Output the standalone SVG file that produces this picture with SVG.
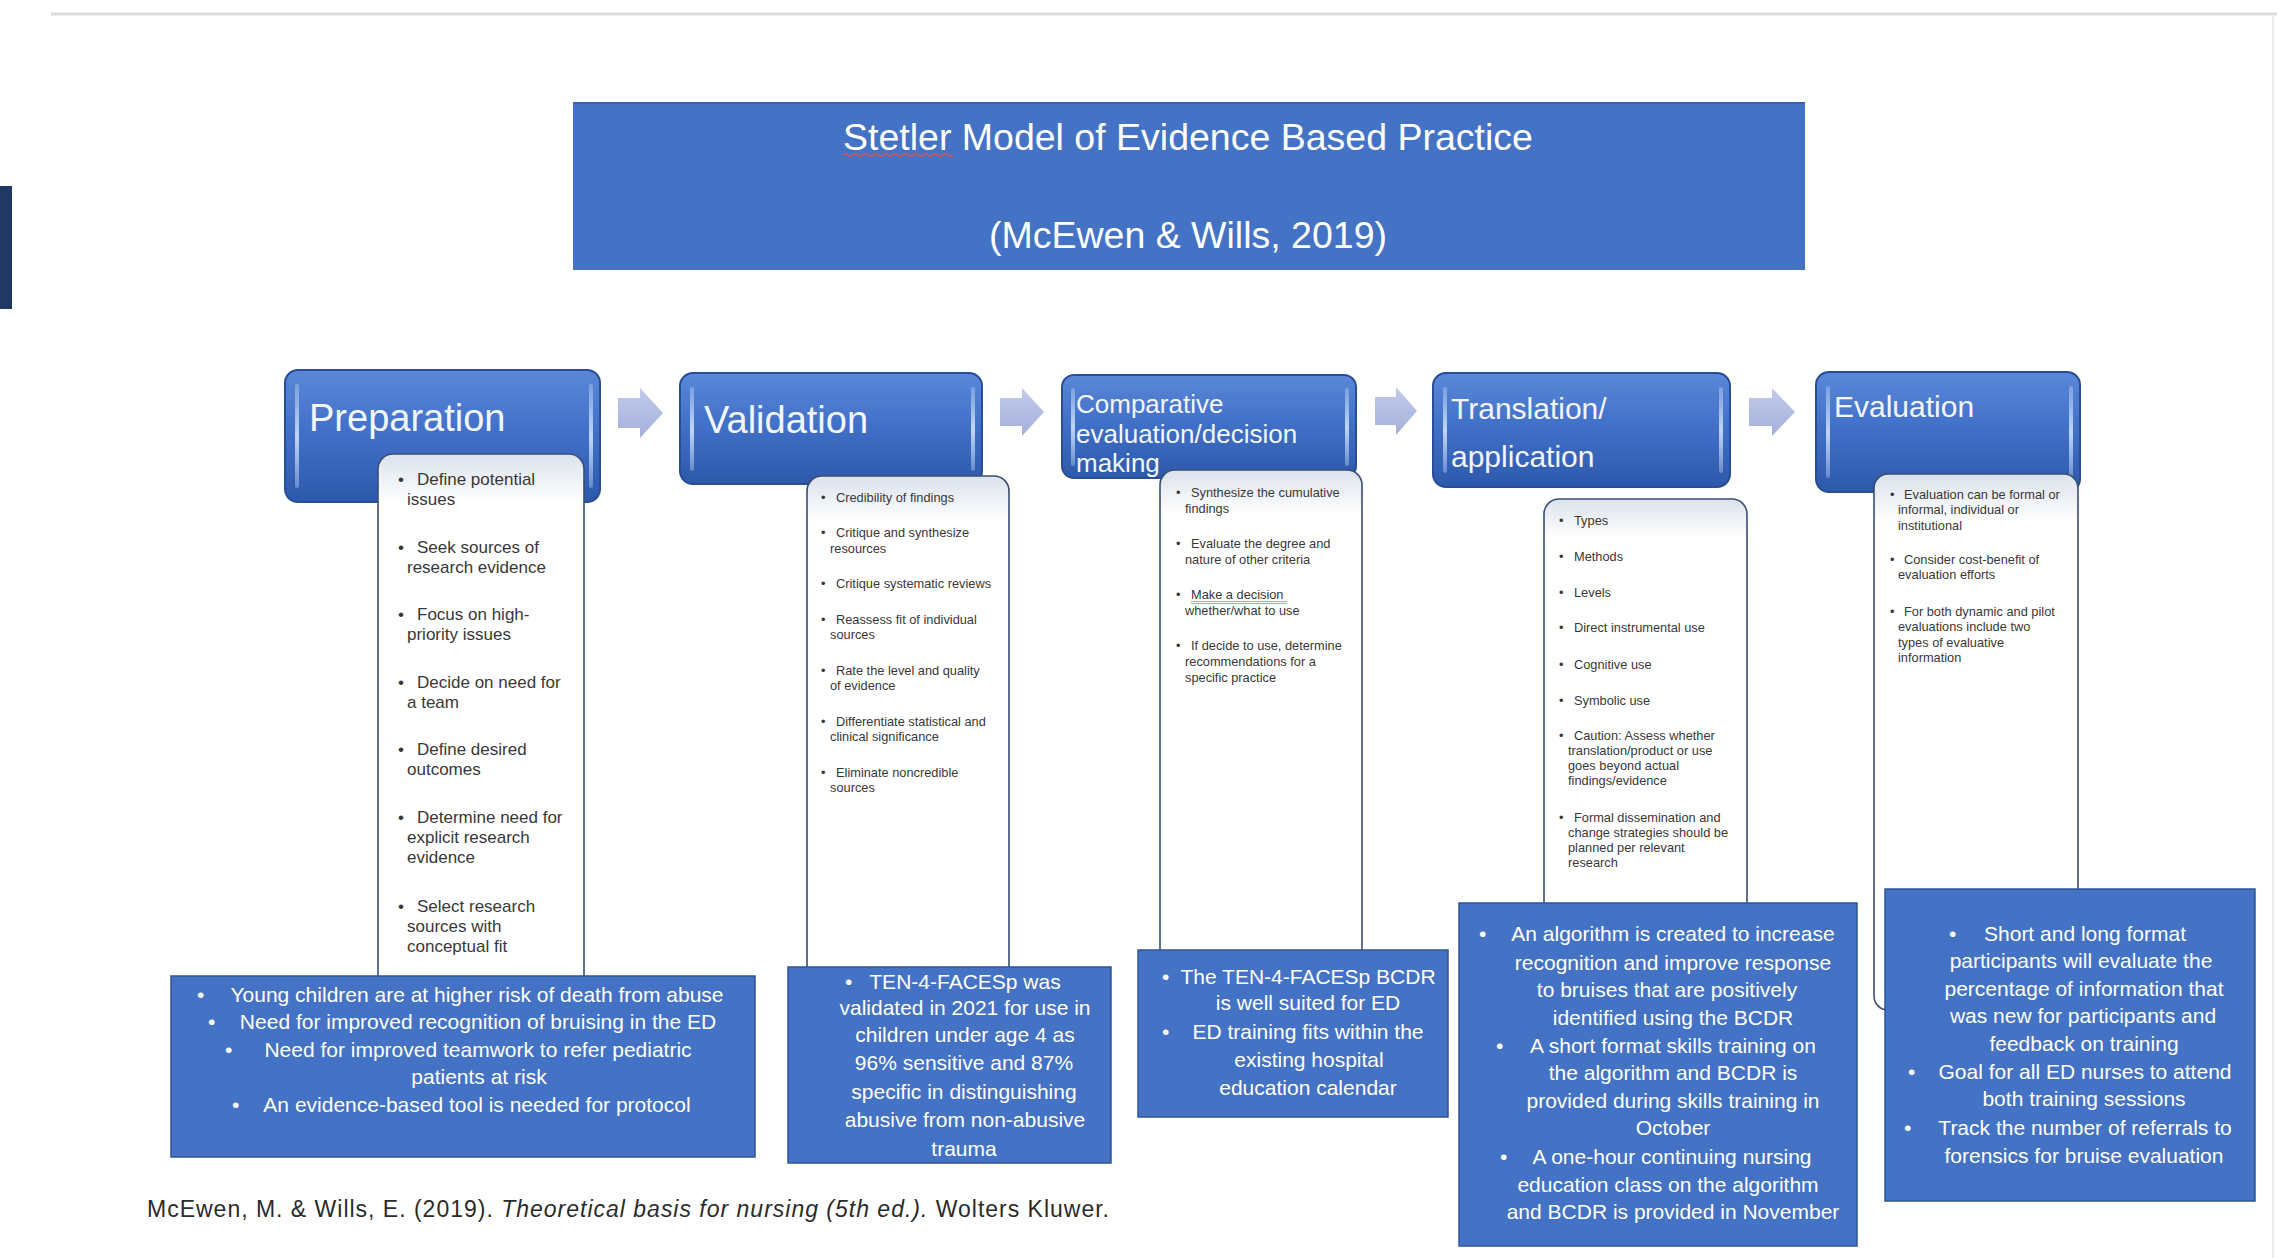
<svg xmlns="http://www.w3.org/2000/svg" width="2277" height="1258" viewBox="0 0 2277 1258">
  <defs>
    <!-- glossy bevel fill for the phase headers -->
    <linearGradient id="hdrFill" x1="0" y1="0" x2="0" y2="1">
      <stop offset="0" stop-color="#5a88d8"/>
      <stop offset="0.45" stop-color="#4271c9"/>
      <stop offset="1" stop-color="#2d59ab"/>
    </linearGradient>
    <linearGradient id="stripeFill" x1="0" y1="0" x2="0" y2="1">
      <stop offset="0" stop-color="#c6dbfa" stop-opacity="0.35"/>
      <stop offset="0.5" stop-color="#c6dbfa" stop-opacity="0.95"/>
      <stop offset="1" stop-color="#c6dbfa" stop-opacity="0.35"/>
    </linearGradient>
    <linearGradient id="panelFill" x1="0" y1="0" x2="0" y2="1">
      <stop offset="0" stop-color="#dbe2ec"/>
      <stop offset="0.09" stop-color="#ffffff"/>
      <stop offset="1" stop-color="#ffffff"/>
    </linearGradient>
    <linearGradient id="arrowFill" x1="0" y1="0" x2="0" y2="1">
      <stop offset="0" stop-color="#c3cbea"/>
      <stop offset="1" stop-color="#a4b0dc"/>
    </linearGradient>
  </defs>
  <style>
    .hdr { fill: url(#hdrFill); stroke: #2a4d98; stroke-width: 2; }
    .stripe { fill: url(#stripeFill); }
    .hdrText { font-family: "Liberation Sans", Arial, sans-serif; fill: #f3f6ff; }
    .panel { fill: url(#panelFill); stroke: #3a4d74; stroke-width: 1.6; }
    .pt { font-family: "Liberation Sans", Arial, sans-serif; fill: #383838; }
    .p17 { font-size: 17px; }
    .p13 { font-size: 12.8px; }
    .box { fill: #4472c4; stroke: #2f5597; stroke-width: 1.5; }
    .bt { font-family: "Liberation Sans", Arial, sans-serif; font-size: 21px; fill: #ffffff; }
    .mid { text-anchor: middle; }
    .arrow { fill: url(#arrowFill); }
    .title { font-family: "Liberation Sans", Arial, sans-serif; font-size: 37.5px; fill: #ffffff; text-anchor: middle; }
  </style>

  <rect x="0" y="0" width="2277" height="1258" fill="#ffffff"/>

  <!-- page frame -->
  <line x1="51" y1="14" x2="2277" y2="14" stroke="#dcdcdc" stroke-width="3"/>
  <line x1="2273" y1="14" x2="2273" y2="1258" stroke="#ececec" stroke-width="2"/>
  <rect x="0" y="186" width="12" height="123" fill="#1f3864"/>

  <!-- title banner -->
  <g id="title">
    <rect x="573" y="102" width="1232" height="168" fill="#4472c4"/>
    <line x1="573" y1="103" x2="1805" y2="103" stroke="#3a62ad" stroke-width="2"/>
    <text class="title" x="1188" y="150">Stetler Model of Evidence Based Practice</text>
    <path d="M843 155 q2.5 -3 5 0 t5 0 t5 0 t5 0 t5 0 t5 0 t5 0 t5 0 t5 0 t5 0 t5 0 t5 0 t5 0 t5 0 t5 0 t5 0 t5 0 t5 0 t5 0 t5 0 t5 0 t5 0" fill="none" stroke="#d9534f" stroke-width="1.6"/>
    <text class="title" x="1188" y="248">(McEwen &amp; Wills, 2019)</text>
  </g>

  <!-- connectors between phases -->
  <g id="connectors">
    <path class="arrow" d="M618 398 H640 V388 L663 413 L640 438 V428 H618 Z"/>
    <path class="arrow" d="M1000 398 H1022 V388 L1044 412 L1022 436 V426 H1000 Z"/>
    <path class="arrow" d="M1375 397 H1396 V387 L1417 411 L1396 435 V425 H1375 Z"/>
    <path class="arrow" d="M1749 398 H1772 V388 L1795 412 L1772 436 V426 H1749 Z"/>
  </g>

  <!-- Phase 1: Preparation -->
  <g id="node-preparation">
    <rect class="hdr" x="285" y="370" width="315" height="132" rx="13"/>
    <rect class="stripe" x="295" y="384" width="4" height="104" rx="2"/>
    <rect class="stripe" x="589" y="384" width="4" height="104" rx="2"/>
    <text class="hdrText" x="309" y="431" font-size="38">Preparation</text>
    <rect class="panel" x="378" y="454" width="206" height="545" rx="15"/>
    <g class="pt p17">
      <text x="398" y="485">•</text><text x="417" y="485">Define potential</text>
      <text x="407" y="505">issues</text>
      <text x="398" y="553">•</text><text x="417" y="553">Seek sources of</text>
      <text x="407" y="573">research evidence</text>
      <text x="398" y="620">•</text><text x="417" y="620">Focus on high-</text>
      <text x="407" y="640">priority issues</text>
      <text x="398" y="688">•</text><text x="417" y="688">Decide on need for</text>
      <text x="407" y="708">a team</text>
      <text x="398" y="755">•</text><text x="417" y="755">Define desired</text>
      <text x="407" y="775">outcomes</text>
      <text x="398" y="823">•</text><text x="417" y="823">Determine need for</text>
      <text x="407" y="843">explicit research</text>
      <text x="407" y="863">evidence</text>
      <text x="398" y="912">•</text><text x="417" y="912">Select research</text>
      <text x="407" y="932">sources with</text>
      <text x="407" y="952">conceptual fit</text>
    </g>
    <rect class="box" x="171" y="976" width="584" height="181"/>
    <g class="bt">
      <text x="197" y="1002">•</text><text class="mid" x="477" y="1002">Young children are at higher risk of death from abuse</text>
      <text x="208" y="1029">•</text><text class="mid" x="478" y="1029">Need for improved recognition of bruising in the ED</text>
      <text x="225" y="1057">•</text><text class="mid" x="478" y="1057">Need for improved teamwork to refer pediatric</text>
      <text class="mid" x="479" y="1084">patients at risk</text>
      <text x="232" y="1112">•</text><text class="mid" x="477" y="1112">An evidence-based tool is needed for protocol</text>
    </g>
  </g>

  <!-- Phase 2: Validation -->
  <g id="node-validation">
    <rect class="hdr" x="680" y="373" width="302" height="111" rx="13"/>
    <rect class="stripe" x="690" y="387" width="4" height="84" rx="2"/>
    <rect class="stripe" x="971" y="387" width="4" height="84" rx="2"/>
    <text class="hdrText" x="704" y="433" font-size="38">Validation</text>
    <rect class="panel" x="807" y="476" width="202" height="510" rx="15"/>
    <g class="pt p13">
      <text x="821" y="501.5">•</text><text x="836" y="501.5">Credibility of findings</text>
      <text x="821" y="537">•</text><text x="836" y="537">Critique and synthesize</text>
      <text x="830" y="552.5">resources</text>
      <text x="821" y="588">•</text><text x="836" y="588">Critique systematic reviews</text>
      <text x="821" y="623.5">•</text><text x="836" y="623.5">Reassess fit of individual</text>
      <text x="830" y="639">sources</text>
      <text x="821" y="674.5">•</text><text x="836" y="674.5">Rate the level and quality</text>
      <text x="830" y="690">of evidence</text>
      <text x="821" y="725.5">•</text><text x="836" y="725.5">Differentiate statistical and</text>
      <text x="830" y="741">clinical significance</text>
      <text x="821" y="776.5">•</text><text x="836" y="776.5">Eliminate noncredible</text>
      <text x="830" y="792">sources</text>
    </g>
    <rect class="box" x="788" y="967" width="323" height="196"/>
    <g class="bt">
      <text x="845" y="989">•</text><text class="mid" x="965" y="989">TEN-4-FACESp was</text>
      <text class="mid" x="965" y="1015">validated in 2021 for use in</text>
      <text class="mid" x="965" y="1042">children under age 4 as</text>
      <text class="mid" x="964" y="1070">96% sensitive and 87%</text>
      <text class="mid" x="964" y="1099">specific in distinguishing</text>
      <text class="mid" x="965" y="1127">abusive from non-abusive</text>
      <text class="mid" x="964" y="1156">trauma</text>
    </g>
  </g>

  <!-- Phase 3: Comparative evaluation / decision making -->
  <g id="node-comparative">
    <rect class="hdr" x="1062" y="375" width="294" height="103" rx="12"/>
    <rect class="stripe" x="1071" y="388" width="4" height="78" rx="2"/>
    <rect class="stripe" x="1345" y="388" width="4" height="78" rx="2"/>
    <text class="hdrText" x="1076" y="413" font-size="26">Comparative</text>
    <text class="hdrText" x="1076" y="443" font-size="26">evaluation/decision</text>
    <text class="hdrText" x="1076" y="472" font-size="26">making</text>
    <rect class="panel" x="1160" y="470" width="202" height="500" rx="15"/>
    <g class="pt p13">
      <text x="1176" y="496.5">•</text><text x="1191" y="496.5">Synthesize the cumulative</text>
      <text x="1185" y="512.5">findings</text>
      <text x="1176" y="547.5">•</text><text x="1191" y="547.5">Evaluate the degree and</text>
      <text x="1185" y="563.5">nature of other criteria</text>
      <text x="1176" y="598.5">•</text><text x="1191" y="598.5">Make a decision</text>
      <text x="1185" y="614.5">whether/what to use</text>
      <text x="1176" y="649.5">•</text><text x="1191" y="649.5">If decide to use, determine</text>
      <text x="1185" y="665.5">recommendations for a</text>
      <text x="1185" y="681.5">specific practice</text>
    </g>
    <path d="M1191 601.5 H1287 M1191 603.5 H1287" stroke="#c9a43a" stroke-width="0.9" fill="none"/>
    <rect class="box" x="1138" y="950" width="310" height="167"/>
    <g class="bt">
      <text x="1162" y="984">•</text><text class="mid" x="1308" y="984">The TEN-4-FACESp BCDR</text>
      <text class="mid" x="1308" y="1010">is well suited for ED</text>
      <text x="1162" y="1039">•</text><text class="mid" x="1308" y="1039">ED training fits within the</text>
      <text class="mid" x="1309" y="1067">existing hospital</text>
      <text class="mid" x="1308" y="1095">education calendar</text>
    </g>
  </g>

  <!-- Phase 4: Translation / application -->
  <g id="node-translation">
    <rect class="hdr" x="1433" y="373" width="297" height="114" rx="13"/>
    <rect class="stripe" x="1443" y="387" width="4" height="86" rx="2"/>
    <rect class="stripe" x="1719" y="387" width="4" height="86" rx="2"/>
    <text class="hdrText" x="1451" y="419" font-size="30">Translation/</text>
    <text class="hdrText" x="1451" y="467" font-size="30">application</text>
    <rect class="panel" x="1544" y="499" width="203" height="430" rx="15"/>
    <g class="pt p13">
      <text x="1559" y="524.5">•</text><text x="1574" y="524.5">Types</text>
      <text x="1559" y="560.5">•</text><text x="1574" y="560.5">Methods</text>
      <text x="1559" y="596.5">•</text><text x="1574" y="596.5">Levels</text>
      <text x="1559" y="631.5">•</text><text x="1574" y="631.5">Direct instrumental use</text>
      <text x="1559" y="668.5">•</text><text x="1574" y="668.5">Cognitive use</text>
      <text x="1559" y="704.5">•</text><text x="1574" y="704.5">Symbolic use</text>
      <text x="1559" y="739.5">•</text><text x="1574" y="739.5">Caution: Assess whether</text>
      <text x="1568" y="754.8">translation/product or use</text>
      <text x="1568" y="770.1">goes beyond actual</text>
      <text x="1568" y="785.4">findings/evidence</text>
      <text x="1559" y="821.5">•</text><text x="1574" y="821.5">Formal dissemination and</text>
      <text x="1568" y="836.8">change strategies should be</text>
      <text x="1568" y="852.1">planned per relevant</text>
      <text x="1568" y="867.4">research</text>
    </g>
    <rect class="box" x="1459" y="903" width="398" height="343"/>
    <g class="bt">
      <text x="1479" y="941">•</text><text class="mid" x="1673" y="941">An algorithm is created to increase</text>
      <text class="mid" x="1673" y="970">recognition and improve response</text>
      <text class="mid" x="1667" y="997">to bruises that are positively</text>
      <text class="mid" x="1673" y="1025">identified using the BCDR</text>
      <text x="1496" y="1053">•</text><text class="mid" x="1673" y="1053">A short format skills training on</text>
      <text class="mid" x="1673" y="1080">the algorithm and BCDR is</text>
      <text class="mid" x="1673" y="1108">provided during skills training in</text>
      <text class="mid" x="1673" y="1135">October</text>
      <text x="1500" y="1164">•</text><text class="mid" x="1672" y="1164">A one-hour continuing nursing</text>
      <text class="mid" x="1668" y="1192">education class on the algorithm</text>
      <text class="mid" x="1673" y="1219">and BCDR is provided in November</text>
    </g>
  </g>

  <!-- Phase 5: Evaluation -->
  <g id="node-evaluation">
    <rect class="hdr" x="1816" y="372" width="264" height="120" rx="13"/>
    <rect class="stripe" x="1826" y="386" width="4" height="92" rx="2"/>
    <rect class="stripe" x="2069" y="386" width="4" height="92" rx="2"/>
    <text class="hdrText" x="1834" y="417" font-size="30">Evaluation</text>
    <rect class="panel" x="1874" y="474" width="204" height="536" rx="14"/>
    <g class="pt p13">
      <text x="1890" y="498.5">•</text><text x="1904" y="498.5">Evaluation can be formal or</text>
      <text x="1898" y="514">informal, individual or</text>
      <text x="1898" y="529.5">institutional</text>
      <text x="1890" y="563.5">•</text><text x="1904" y="563.5">Consider cost-benefit of</text>
      <text x="1898" y="579">evaluation efforts</text>
      <text x="1890" y="615.5">•</text><text x="1904" y="615.5">For both dynamic and pilot</text>
      <text x="1898" y="631">evaluations include two</text>
      <text x="1898" y="646.5">types of evaluative</text>
      <text x="1898" y="662">information</text>
    </g>
    <rect class="box" x="1885" y="889" width="370" height="312"/>
    <g class="bt">
      <text x="1949" y="941">•</text><text class="mid" x="2085" y="941">Short and long format</text>
      <text class="mid" x="2081" y="968">participants will evaluate the</text>
      <text class="mid" x="2084" y="996">percentage of information that</text>
      <text class="mid" x="2083" y="1023">was new for participants and</text>
      <text class="mid" x="2084" y="1051">feedback on training</text>
      <text x="1908" y="1079">•</text><text class="mid" x="2085" y="1079">Goal for all ED nurses to attend</text>
      <text class="mid" x="2084" y="1106">both training sessions</text>
      <text x="1904" y="1135">•</text><text class="mid" x="2085" y="1135">Track the number of referrals to</text>
      <text class="mid" x="2084" y="1163">forensics for bruise evaluation</text>
    </g>
  </g>

  <!-- reference line -->
  <text x="147" y="1217" font-family="'Liberation Sans', Arial, sans-serif" font-size="23" fill="#2b2b2b" textLength="962">McEwen, M. &amp; Wills, E. (2019). <tspan font-style="italic">Theoretical basis for nursing (5th ed.).</tspan> Wolters Kluwer.</text>
</svg>
